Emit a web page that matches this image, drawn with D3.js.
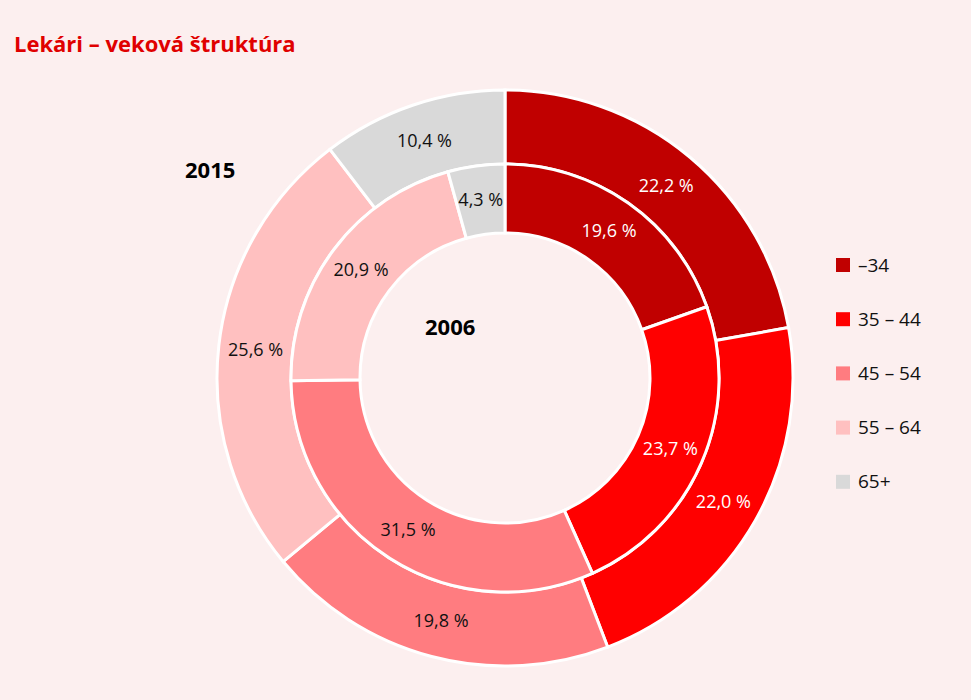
<!DOCTYPE html>
<html><head><meta charset="utf-8">
<script src="https://cdn.jsdelivr.net/npm/d3@7"></script>
<style>body{margin:0;background:#fcefef}</style></head>
<body><svg id="c" width="971" height="700"></svg>
<script>
const categories = ["–34","35 – 44","45 – 54","55 – 64","65+"];
const colors = ["#c00000","#ff0000","#ff7c80","#ffc0c0","#d9d9d9"];
const values2015 = [22.2,22.0,19.8,25.6,10.4];
const values2006 = [19.6,23.7,31.5,20.9,4.3];
const labelDark = [true,true,false,false,false];

const svg = d3.select("#c");
svg.append("rect").attr("width",971).attr("height",700).attr("fill","#fcefef");
const font = "'Open Sans', 'Liberation Sans', sans-serif";
svg.append("text").attr("x",14).attr("y",52).attr("fill","#e00000").attr("font-family",font)
  .attr("font-weight","bold").attr("font-size",22).text("Lekári – veková štruktúra");

const cx=505, cy=378;
const g = svg.append("g").attr("transform",`translate(${cx},${cy})`);
const pie = d3.pie().sort(null);
function ring(vals, r0, r1, lr){
  const arc = d3.arc().innerRadius(r0).outerRadius(r1);
  const la = d3.arc().innerRadius(lr).outerRadius(lr);
  const arcs = pie(vals);
  g.selectAll(null).data(arcs).enter().append("path").attr("d",arc)
    .attr("fill",(d,i)=>colors[i]).attr("stroke","#fff").attr("stroke-width",3);
  g.selectAll(null).data(arcs).enter().append("text")
    .attr("transform",d=>`translate(${la.centroid(d)})`)
    .attr("text-anchor","middle").attr("dy","0.35em").attr("font-family",font).attr("font-size",18)
    .attr("fill",(d,i)=>labelDark[i]?"#fff":"#111")
    .text(d=>d3.format(".1f")(d.data).replace(".",",")+" %");
}
ring(values2015, 214, 288, 251);
ring(values2006, 145, 214, 180);

svg.append("text").attr("x",185).attr("y",178).attr("font-family",font).attr("font-weight","bold").attr("font-size",22).text("2015");
svg.append("text").attr("x",425).attr("y",335).attr("font-family",font).attr("font-weight","bold").attr("font-size",22).text("2006");

const lg = svg.append("g");
categories.forEach((c,i)=>{
  const y = 265 + i*54.2;
  lg.append("rect").attr("x",836).attr("y",y-7).attr("width",14).attr("height",14).attr("fill",colors[i]);
  lg.append("text").attr("x",858).attr("y",y).attr("dy","0.35em").attr("font-family",font).attr("font-size",19).attr("fill","#111").text(c);
});
</script></body></html>
